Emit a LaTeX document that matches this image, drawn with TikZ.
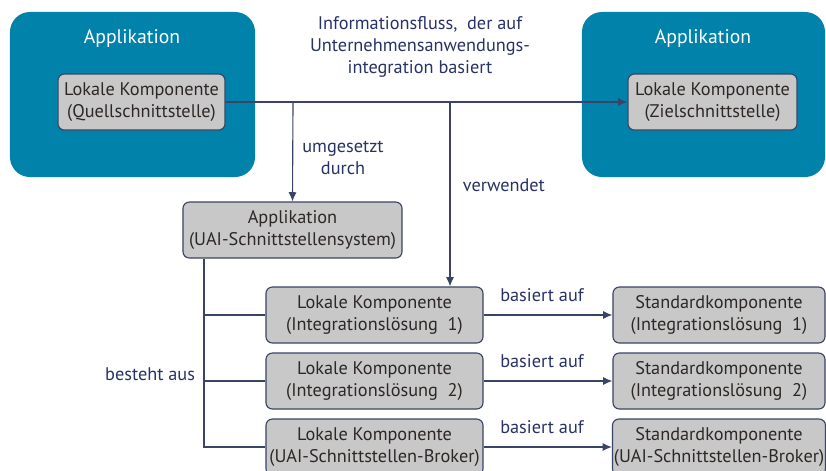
\documentclass[tikz,border=0pt]{standalone}
\usepackage{fontspec}
\setmainfont{PT Sans}
\usetikzlibrary{arrows.meta}
\begin{document}
\begin{tikzpicture}[x=0.025cm,y=-0.025cm,
  every node/.style={font=\fontsize{13}{15.5}\selectfont},
  appbox/.style={fill=appcolor, rounded corners=0.5cm, minimum width=#1, minimum height=4.125cm, inner sep=0pt},
  compbox/.style={draw=linecolor, fill=boxcolor, rounded corners=0.16cm, thick, align=center,
    text=textcolor, minimum width=#1, minimum height=1.4cm, inner sep=1pt},
  lbl/.style={text=labelcolor, align=center},
  flow/.style={draw=linecolor, thick},
  tip/.style={flow, -{Latex[length=2.3mm,width=2mm]}}]
\definecolor{appcolor}{RGB}{0,130,170}
\definecolor{boxcolor}{RGB}{200,200,200}
\definecolor{linecolor}{RGB}{58,68,102}
\definecolor{textcolor}{RGB}{45,40,38}
\definecolor{labelcolor}{RGB}{40,50,100}
\useasboundingbox (0,0) rectangle (826,470);
% Applikationen (Quelle, Ziel)
\node[appbox=6.125cm] (appL) at (132.5,94.5) {};
\node[appbox=6.075cm] (appR) at (703.5,94.5) {};
\node[text=white, font=\fontsize{14}{16}\selectfont] (titleL) at (132,38) {Applikation};
\node[text=white, font=\fontsize{14}{16}\selectfont] (titleR) at (703,38) {Applikation};
\node[compbox=4.175cm] (srcIf) at (141.5,102) {Lokale Komponente\\(Quellschnittstelle)};
\node[compbox=4.225cm] (tgtIf) at (712.5,102) {Lokale Komponente\\(Zielschnittstelle)};
% Informationsfluss
\draw[tip] (srcIf.east) -- (tgtIf.west);
\node[lbl] (flowLbl) at (420,47) {Informationsfluss,\ \ der auf\\Unternehmensanwendungs-\\integration basiert};
% UAI-Schnittstellensystem
\node[compbox=5.475cm] (uaiSys) at (292.5,230) {Applikation\\(UAI-Schnittstellensystem)};
\coordinate (brA) at (293,102);
\draw[tip] (brA) -- (uaiSys.north);
\node[lbl] (implLbl) at (343,158) {umgesetzt\\durch};
% Komponenten und Standardkomponenten
\foreach \y/\what [count=\i] in {315/Integrationslösung\ \ 1, 381/Integrationslösung\ \ 2, 447/UAI-Schnittstellen-Broker} {
  \node[compbox=5.425cm] (lk\i) at (374.5,\y) {Lokale Komponente\\(\what)};
  \node[compbox=5.3cm] (std\i) at (719,\y) {Standardkomponente\\(\what)};
  \draw[tip] (lk\i.east) -- (std\i.west);
  \node[lbl] (baseLbl\i) at (542,\y-20) {basiert auf};
}
\coordinate (brB) at (450,102);
\draw[tip] (brB) -- (brB |- lk1.north);
\node[lbl, anchor=west] (useLbl) at (458,185) {verwendet};
% besteht aus
\coordinate (trunk) at (uaiSys.south -| 204,0);
\draw[flow] (trunk) |- (lk3.west);
\draw[flow] (trunk |- lk1.west) -- (lk1.west);
\draw[flow] (trunk |- lk2.west) -- (lk2.west);
\node[lbl, anchor=east] (partLbl) at (200,374) {besteht aus};
\end{tikzpicture}
\end{document}
